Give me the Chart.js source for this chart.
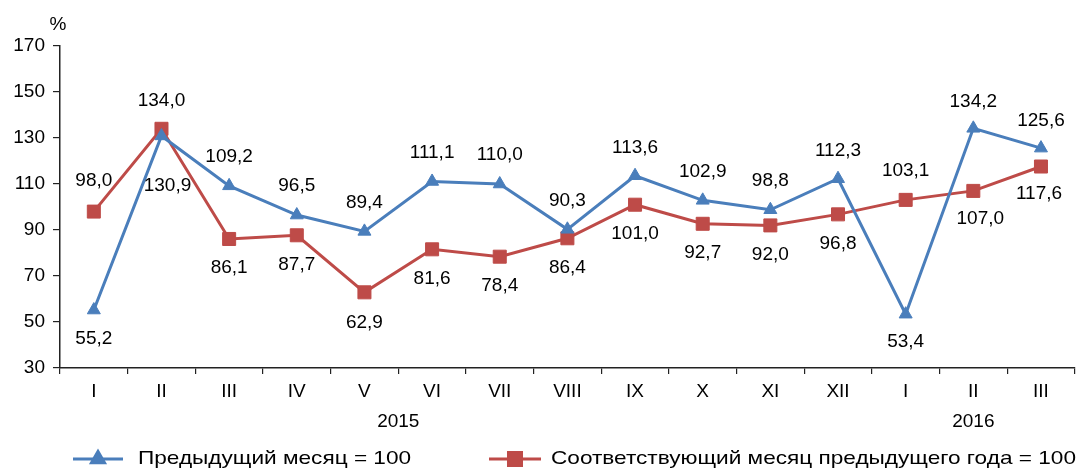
<!DOCTYPE html>
<html>
<head>
<meta charset="utf-8">
<script src="https://cdn.jsdelivr.net/npm/chart.js@4.4.1/dist/chart.umd.min.js"></script>
<style>
html,body{margin:0;padding:0;overflow:hidden;background:#fff;}
canvas{display:block;}
</style>
</head>
<body>
<canvas id="c" width="1085" height="468"></canvas>
<script>
const categories = ['I','II','III','IV','V','VI','VII','VIII','IX','X','XI','XII','I','II','III'];
const years = [{label:'2015', at:4.5}, {label:'2016', at:13}];
const prevMonth = [55.2,130.9,109.2,96.5,89.4,111.1,110.0,90.3,113.6,102.9,98.8,112.3,53.4,134.2,125.6];
const prevYear  = [98.0,134.0,86.1,87.7,62.9,81.6,78.4,86.4,101.0,92.7,92.0,96.8,103.1,107.0,117.6];
const seriesNames = ['Предыдущий месяц = 100','Соответствующий месяц предыдущего года = 100'];
const yTicks = {min:30, max:170, step:20};
const unitLabel = '%';

// label placement (pixel offsets from the point), style only
const prevMonthDy = [29,50,-29,-29,-29,-29,-29,-29,-28,-29,-29,-28,28,-27,-27];
const prevMonthDx = [0,6,0,0,0,0,0,0,0,0,0,0,0,0,0];
const prevYearDy  = [-31,-28,29,29,30,29,29,29,29,29,29,29,-29,28,27];
const prevYearDx  = [0,0,0,0,0,0,0,0,0,0,0,0,0,7,-2];

const BLUE = '#4A7EBB', RED = '#BE4B48';
const FONT = '"Liberation Sans", Arial, sans-serif';
const fmt = v => v.toFixed(1).replace('.', ',');

const labelsPlugin = {
  id: 'extras',
  afterDatasetsDraw(chart) {
    const ctx = chart.ctx;
    ctx.save();
    ctx.fillStyle = '#000';
    ctx.font = '19px ' + FONT;
    ctx.textAlign = 'center';
    ctx.textBaseline = 'middle';
    const offs = [[prevMonthDx, prevMonthDy], [prevYearDx, prevYearDy]];
    chart.data.datasets.forEach((ds, di) => {
      const meta = chart.getDatasetMeta(di);
      meta.data.forEach((pt, i) => {
        ctx.fillText(fmt(ds.data[i]), pt.x + offs[di][0][i], pt.y + offs[di][1][i]);
      });
    });
    // unit
    ctx.fillText(unitLabel, 58, 25);
    // years
    const xs = chart.scales.x;
    years.forEach(y => ctx.fillText(y.label, xs.getPixelForValue(y.at), 422));
    // legend
    const ly = 459;
    const items = [
      {x0:73, x1:123, tx:138, color:BLUE, style:'triangle', r:7.5},
      {x0:489, x1:541, tx:551, color:RED, style:'rect', r:9.2}
    ];
    ctx.textAlign = 'left';
    items.forEach((it, k) => {
      ctx.strokeStyle = it.color;
      ctx.lineWidth = 3;
      ctx.beginPath(); ctx.moveTo(it.x0, ly); ctx.lineTo(it.x1, ly); ctx.stroke();
      ctx.fillStyle = it.color;
      Chart.helpers.drawPoint(ctx, {pointStyle: it.style, radius: it.r, borderWidth: 1}, (it.x0+it.x1)/2, ly);
      ctx.fill();
      ctx.fillStyle = '#000';
      ctx.save();
      ctx.translate(it.tx, ly);
      ctx.scale(1.19, 1);
      ctx.fillText(seriesNames[k], 0, 0);
      ctx.restore();
    });
    ctx.restore();
  }
};

new Chart(document.getElementById('c'), {
  type: 'line',
  data: {
    labels: categories,
    datasets: [
      {label: seriesNames[0], data: prevMonth, borderColor: BLUE, backgroundColor: BLUE,
       pointBorderColor: BLUE, pointBackgroundColor: BLUE, borderWidth: 3,
       pointStyle: 'triangle', pointRadius: 7.5, pointBorderWidth: 1, tension: 0},
      {label: seriesNames[1], data: prevYear, borderColor: RED, backgroundColor: RED,
       pointBorderColor: RED, pointBackgroundColor: RED, borderWidth: 3,
       pointStyle: 'rect', pointRadius: 9.2, pointBorderWidth: 1, tension: 0}
    ]
  },
  options: {
    responsive: false,
    animation: false,
    layout: {padding: {top: 46, right: 2, left: 0, bottom: 0}},
    plugins: {legend: {display: false}, tooltip: {enabled: false}},
    scales: {
      x: {
        offset: true,
        grid: {offset: true, drawOnChartArea: false, drawTicks: true, tickLength: 6, color: '#222', lineWidth: 1.2},
        border: {display: true, color: '#222', width: 1.5},
        ticks: {color: '#000', font: {family: FONT, size: 19}, padding: 6, maxRotation: 0, autoSkip: false},
        afterFit: s => { s.height = 100; }
      },
      y: {
        min: yTicks.min, max: yTicks.max,
        grid: {drawOnChartArea: false, drawTicks: true, tickLength: 7, color: '#222', lineWidth: 1.2},
        border: {display: true, color: '#222', width: 1.5},
        ticks: {stepSize: yTicks.step, color: '#000', font: {family: FONT, size: 19}, padding: 8},
        afterFit: s => { s.width = 60; }
      }
    }
  },
  plugins: [labelsPlugin]
});
</script>
</body>
</html>
